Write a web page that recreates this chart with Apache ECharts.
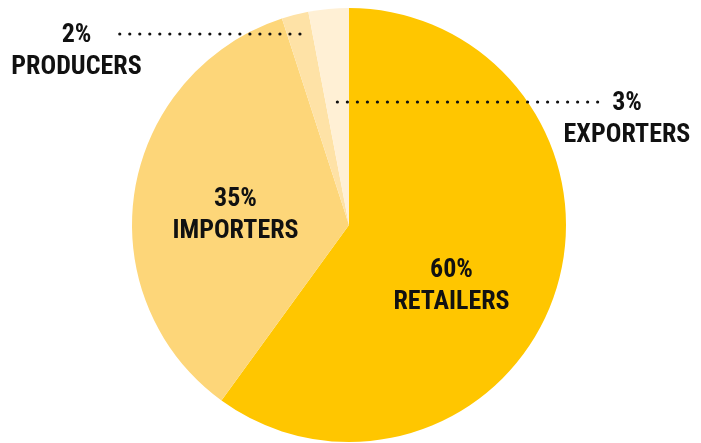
<!DOCTYPE html>
<html><head><meta charset="utf-8">
<script src="https://cdn.jsdelivr.net/npm/echarts@6/dist/echarts.min.js"></script>
<style>html,body{margin:0;padding:0;background:#fff}#c{width:701px;height:443px}</style>
</head><body><div id="c"></div>
<script>
const categories = ['RETAILERS', 'IMPORTERS', 'PRODUCERS', 'EXPORTERS'];
const shares = [60, 35, 2, 3];
const colors = ['#FFC600', '#FDD679', '#FEE2A6', '#FFF0D5'];

const CX = 349, CY = 225, R = 217;
const FONT = '"Roboto Condensed", "DejaVu Sans Condensed", sans-serif';
const total = shares.reduce((a, b) => a + b, 0);
function midAngle(i) {
  let s = 0;
  for (let k = 0; k < i; k++) s += shares[k];
  return (s + shares[i] / 2) / total * 2 * Math.PI;
}
// label placement (layout only)
const labelPos = [
  { x: 451.5, y: 286 },
  { x: 235.5, y: 215 },
  { x: 76.5, y: 51.5, lineY: 34, endX: 116 },
  { x: 627, y: 119.5, lineY: 102, endX: 600 }
];

const chart = echarts.init(document.getElementById('c'), null, { renderer: 'canvas' });
const base = {
  type: 'pie',
  center: [CX, CY],
  radius: R,
  startAngle: 90,
  clockwise: true,
  avoidLabelOverlap: false,
  emphasis: { disabled: true },
  silent: true
};
chart.setOption({
  animation: false,
  series: [
    Object.assign({}, base, {
      z: 2,
      data: categories.map((name, i) => ({ name: name, value: shares[i], itemStyle: { color: colors[i] } })),
      itemStyle: { borderWidth: 0 },
      label: { show: false },
      labelLine: { show: false }
    }),
    Object.assign({}, base, {
      z: 5,
      data: categories.map((name, i) => {
        const outside = i >= 2;
        return {
          name: name,
          value: shares[i],
          itemStyle: { color: 'rgba(0,0,0,0)' },
          label: { position: outside ? 'outside' : 'inside' },
          labelLine: { show: outside }
        };
      }),
      itemStyle: { borderWidth: 0 },
      label: {
        show: true,
        formatter: p => p.value + '%\n' + p.name,
        fontFamily: FONT,
        fontWeight: 'bold',
        fontSize: 26,
        lineHeight: 32,
        color: '#111',
        align: 'center'
      },
      labelLine: {
        lineStyle: { color: '#111', width: 3.2, type: [0.01, 10], cap: 'round' }
      },
      labelLayout: function (p) {
        const i = p.dataIndex;
        const L = labelPos[i];
        const out = { x: L.x, y: L.y, align: 'center', verticalAlign: 'middle' };
        if (L.lineY !== undefined) {
          const a = midAngle(i);
          const r = (CY - L.lineY) / Math.cos(a);
          const sx = CX + r * Math.sin(a);
          out.labelLinePoints = [[sx, L.lineY], [(sx + L.endX) / 2, L.lineY], [L.endX, L.lineY]];
        }
        return out;
      }
    })
  ]
});
</script></body></html>
